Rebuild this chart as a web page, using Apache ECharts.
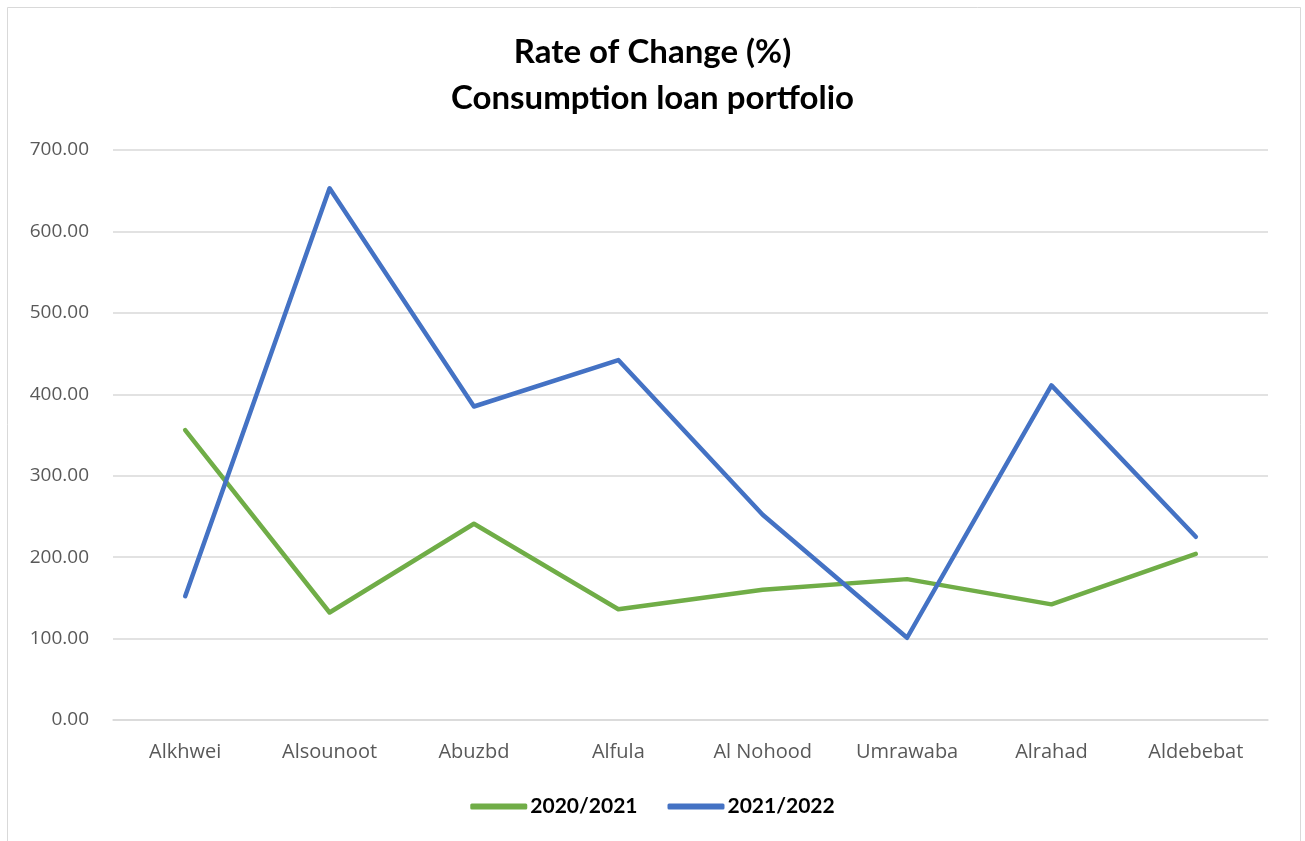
<!DOCTYPE html>
<html>
<head>
<meta charset="utf-8">
<script src="https://cdn.jsdelivr.net/npm/echarts@6/dist/echarts.min.js"></script>
<style>
  html, body { margin: 0; padding: 0; background: #fff; }
  #chart { width: 1305px; height: 841px; }
</style>
</head>
<body>
<div id="chart"></div>
<script>
// Branch names along the horizontal axis
const branches = ['Alkhwei', 'Alsounoot', 'Abuzbd', 'Alfula', 'Al Nohood', 'Umrawaba', 'Alrahad', 'Aldebebat'];

// Rate of change (%) per branch, by period
const change2020_2021 = [356, 132, 241, 136, 160, 173, 142, 204];
const change2021_2022 = [152, 653, 385, 442, 252, 101, 411, 225];

// Value axis ticks
const yMin = 0;
const yMax = 700;
const yStep = 100;

const chart = echarts.init(document.getElementById('chart'));
const titleFont = 'Lato, "Open Sans", sans-serif';
const axisFont = '"Open Sans", "Noto Sans", sans-serif';

chart.setOption({
  backgroundColor: '#ffffff',
  animation: false,
  graphic: [{
    type: 'rect',
    shape: { x: 7.5, y: 7.5, width: 1293, height: 840 },
    style: { fill: 'none', stroke: '#D9D9D9', lineWidth: 1 },
    silent: true
  }],
  title: {
    text: 'Rate of Change (%)\nConsumption loan portfolio',
    left: 'center',
    top: 24,
    textStyle: {
      fontFamily: titleFont,
      fontWeight: 'bold',
      fontSize: 33,
      lineHeight: 46,
      color: '#000000'
    }
  },
  legend: {
    top: 791,
    left: 'center',
    itemWidth: 57,
    itemHeight: 6,
    itemGap: 30,
    icon: 'roundRect',
    textStyle: {
      fontFamily: titleFont,
      fontWeight: 'bold',
      fontSize: 21,
      color: '#000000',
      padding: [0, 0, 0, -2]
    },
    data: ['2020/2021', '2021/2022']
  },
  grid: {
    left: 113,
    right: 37,
    top: 150,
    bottom: 121,
    containLabel: false
  },
  xAxis: {
    type: 'category',
    data: branches,
    boundaryGap: true,
    axisLine: { show: true, lineStyle: { color: '#D9D9D9', width: 1.5 } },
    axisTick: { show: false },
    axisLabel: {
      fontFamily: axisFont,
      fontSize: 20,
      color: '#595959',
      margin: 22
    }
  },
  yAxis: {
    type: 'value',
    min: yMin,
    max: yMax,
    interval: yStep,
    axisLine: { show: false },
    axisTick: { show: false },
    axisLabel: {
      fontFamily: axisFont,
      fontSize: 19,
      color: '#595959',
      margin: 24,
      formatter: v => v.toFixed(2)
    },
    splitLine: { lineStyle: { color: '#D9D9D9', width: 1.5 } }
  },
  series: [
    {
      name: '2020/2021',
      type: 'line',
      data: change2020_2021,
      showSymbol: false,
      symbol: 'none',
      lineStyle: { color: '#70AD47', width: 4.5, cap: 'round', join: 'round' },
      itemStyle: { color: '#70AD47' }
    },
    {
      name: '2021/2022',
      type: 'line',
      data: change2021_2022,
      showSymbol: false,
      symbol: 'none',
      lineStyle: { color: '#4472C4', width: 4.5, cap: 'round', join: 'round' },
      itemStyle: { color: '#4472C4' }
    }
  ]
});
</script>
</body>
</html>
